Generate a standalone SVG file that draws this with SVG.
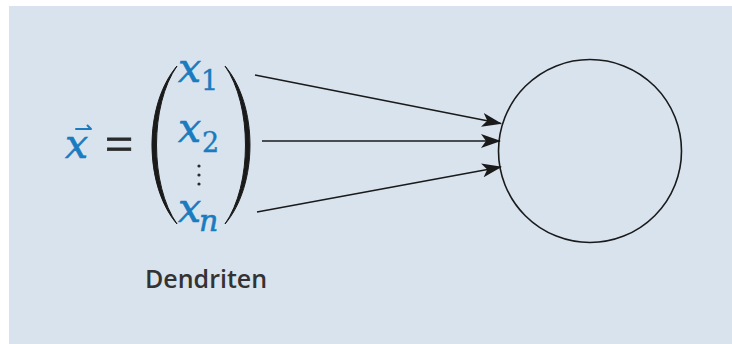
<svg xmlns="http://www.w3.org/2000/svg" width="732" height="344" viewBox="0 0 732 344">
<style>
.m{font-family:"DejaVu Serif",serif;font-style:italic;fill:#1b7bbf;stroke:#1b7bbf;stroke-width:0.6}
.sub{font-family:"DejaVu Serif",serif;fill:#1b7bbf;stroke:#1b7bbf;stroke-width:0.4}
.lbl{font-family:"Open Sans",sans-serif;font-size:25px;font-weight:600;fill:#333}
.edge{stroke:#1a1a1a;stroke-width:1.6;fill:none}
.par{fill:#1a1a1a;stroke:#1a1a1a;stroke-width:1;stroke-linejoin:round}
</style>
<defs>
<marker id="ah" viewBox="0 0 20 14" refX="19" refY="7" markerWidth="20" markerHeight="14" markerUnits="userSpaceOnUse" orient="auto">
<path d="M0,0 L20,7 L0,14 L5,7 Z" fill="#1a1a1a"/>
</marker>
</defs>
<rect x="9" y="6" width="723" height="338" fill="#d9e3ee"/>
<g id="vector">
<text class="m" x="65" y="158" font-size="41">x</text>
<path d="M76,129 L91,129 M87.5,125.5 L91,129" stroke="#1b7bbf" stroke-width="2" fill="none" stroke-linecap="round"/>
<text x="105" y="161" font-family="Liberation Serif,serif" font-size="50" fill="#2a2a2a" stroke="#2a2a2a" stroke-width="0.8">=</text>
<path class="par" d="M177,66 C143.7,105 143.7,185 177,224 C149.7,185 149.7,105 177,66 Z"/>
<path class="par" d="M225,66 C258.3,105 258.3,185 225,224 C252.3,185 252.3,105 225,66 Z"/>
<text class="m" x="178" y="82" font-size="41">x</text>
<text class="sub" x="201" y="90" font-size="27">1</text>
<text class="m" x="178" y="142" font-size="41">x</text>
<text class="sub" x="202" y="152" font-size="27">2</text>
<circle cx="199" cy="166" r="1.6" fill="#2a2a2a"/>
<circle cx="199" cy="175" r="1.6" fill="#2a2a2a"/>
<circle cx="199" cy="184" r="1.6" fill="#2a2a2a"/>
<text class="m" x="178" y="222" font-size="41">x</text>
<text class="m" x="199" y="231" font-size="30">n</text>
</g>
<g id="label">
<text class="lbl" x="145" y="288">Dendriten</text>
</g>
<g id="neuron">
<circle cx="590" cy="151" r="91.5" fill="none" stroke="#1a1a1a" stroke-width="1.6"/>
</g>
<g id="connectors">
<line class="edge" x1="255" y1="75" x2="501" y2="123.5" marker-end="url(#ah)"/>
<line class="edge" x1="262" y1="141" x2="500" y2="141" marker-end="url(#ah)"/>
<line class="edge" x1="257" y1="212" x2="501" y2="167" marker-end="url(#ah)"/>
</g>
</svg>
